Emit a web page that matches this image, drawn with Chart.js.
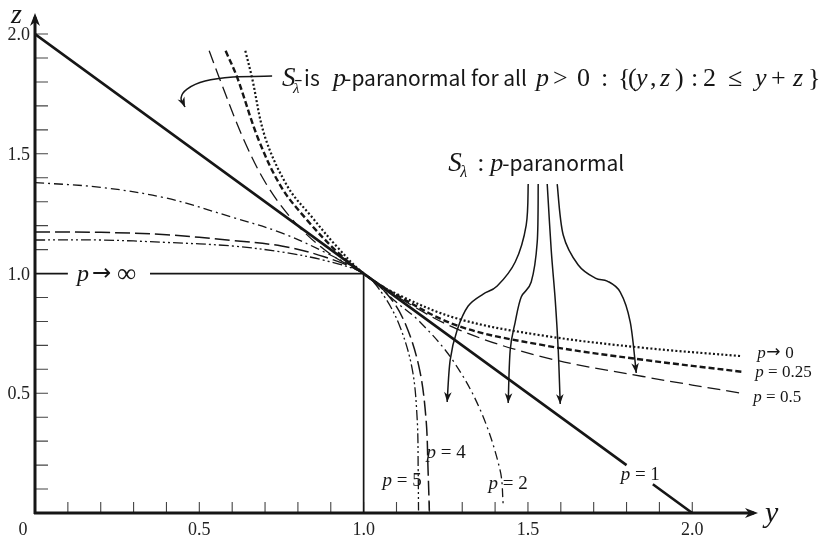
<!DOCTYPE html>
<html>
<head>
<meta charset="utf-8">
<script src="https://cdn.jsdelivr.net/npm/chart.js@4.4.1/dist/chart.umd.min.js"></script>
<style>
  html, body { margin: 0; padding: 0; background: #fff; }
</style>
</head>
<body>
<canvas id="paranormal" width="825" height="541"></canvas>
<script>
// level sets through (1, 1): [y, z] pairs, left branch first
const curveP0   = [[0.64, 1.93], [0.66, 1.82], [0.70, 1.57], [0.77, 1.36], [0.84, 1.24], [0.92, 1.11], [1.0, 1.0],
                   [1.1, 0.915], [1.29, 0.81], [1.55, 0.74], [1.85, 0.69], [2.15, 0.655]];
const curveP025 = [[0.58, 1.93], [0.615, 1.82], [0.68, 1.56], [0.75, 1.36], [0.83, 1.22], [0.92, 1.09], [1.0, 1.0],
                   [1.1, 0.91], [1.29, 0.78], [1.55, 0.70], [1.85, 0.64], [2.15, 0.59]];
const curveP05  = [[0.53, 1.93], [0.56, 1.82], [0.635, 1.56], [0.71, 1.36], [0.80, 1.20], [0.90, 1.08], [1.0, 1.0],
                   [1.1, 0.905], [1.29, 0.765], [1.55, 0.65], [1.85, 0.57], [2.15, 0.50]];
const curveP2   = [[0, 1.38], [0.2, 1.36], [0.4, 1.315], [0.6, 1.235], [0.75, 1.17], [0.88, 1.09], [1.0, 1.0],
                   [1.1, 0.88], [1.17, 0.80], [1.27, 0.64], [1.355, 0.43], [1.415, 0.18], [1.425, 0.03]];
const curveP4   = [[0, 1.173], [0.2, 1.172], [0.4, 1.162], [0.6, 1.138], [0.75, 1.115], [0.88, 1.07], [1.0, 1.0],
                   [1.08, 0.90], [1.13, 0.78], [1.17, 0.60], [1.19, 0.39], [1.196, 0.18], [1.2, 0.01]];
const curveP5   = [[0, 1.14], [0.2, 1.14], [0.4, 1.13], [0.6, 1.115], [0.75, 1.09], [0.88, 1.055], [1.0, 1.0],
                   [1.06, 0.91], [1.11, 0.78], [1.148, 0.60], [1.163, 0.39], [1.166, 0.18], [1.167, 0.01]];
// y + z = 2, broken where "p = 1" sits
const lineP1    = [[0, 2], [1.8, 0.2], [1.84, null], [1.88, 0.12], [2, 0]];
// max(y, z) = 1, broken where "p -> inf" sits
const lineInf   = [[0, 1], [0.1, 1], [0.22, null], [0.35, 1], [1, 1], [1, 0]];

const yTickValues = [0, 0.5, 1.0, 1.5, 2.0];
const yTickLabels = ['0', '0.5', '1.0', '1.5', '2.0'];
const zTickValues = [0.5, 1.0, 1.5, 2.0];
const zTickLabels = ['0.5', '1.0', '1.5', '2.0'];

const INK = '#161616';
const SERIF = '"Liberation Serif", "DejaVu Serif", serif';
const SANS = '"Noto Sans CJK KR", "Noto Sans", sans-serif';
const it = px => `italic ${px}px ${SERIF}`;
const rm = px => `${px}px ${SERIF}`;
const sans = px => `${px}px ${SANS}`;
const arw = px => `${px}px "DejaVu Sans", sans-serif`;

const pts = arr => arr.map(([a, b]) => ({ x: a, y: b }));

function curve(data, dash, width) {
  return {
    data: pts(data),
    showLine: true,
    borderColor: INK,
    borderWidth: width,
    borderDash: dash,
    pointRadius: 0,
    tension: 0.35,
    fill: false
  };
}

// several font runs on one baseline
function runs(ctx, parts, x, y, align) {
  let w = 0;
  parts.forEach(([t, f]) => { ctx.font = f; w += ctx.measureText(t).width; });
  let cx = align === 'center' ? x - w / 2 : x;
  parts.forEach(([t, f]) => {
    ctx.font = f;
    ctx.fillText(t, cx, y);
    cx += ctx.measureText(t).width;
  });
  return cx;
}

// glyphs set at fixed offsets from an anchor: [text, font, dx, dy]
function place(ctx, items, x, y) {
  items.forEach(([t, f, dx, dy]) => {
    ctx.font = f;
    ctx.fillText(t, x + dx, y + (dy || 0));
  });
}

function arrowHead(ctx, tip, from, len, half) {
  const a = Math.atan2(tip.y - from.y, tip.x - from.x);
  ctx.beginPath();
  ctx.moveTo(tip.x, tip.y);
  ctx.lineTo(tip.x - len * Math.cos(a) + half * Math.sin(a), tip.y - len * Math.sin(a) - half * Math.cos(a));
  ctx.lineTo(tip.x - len * Math.cos(a) * 0.7, tip.y - len * Math.sin(a) * 0.7);
  ctx.lineTo(tip.x - len * Math.cos(a) - half * Math.sin(a), tip.y - len * Math.sin(a) + half * Math.cos(a));
  ctx.closePath();
  ctx.fill();
}

// smooth pointer through points (catmull-rom), arrowhead at the last one
function pointer(ctx, p) {
  ctx.beginPath();
  ctx.moveTo(p[0].x, p[0].y);
  let c2 = p[0];
  for (let i = 0; i < p.length - 1; i++) {
    const p0 = p[i - 1] || p[i], p1 = p[i], p2 = p[i + 1], p3 = p[i + 2] || p2;
    const c1 = { x: p1.x + (p2.x - p0.x) / 6, y: p1.y + (p2.y - p0.y) / 6 };
    c2 = { x: p2.x - (p3.x - p1.x) / 6, y: p2.y - (p3.y - p1.y) / 6 };
    ctx.bezierCurveTo(c1.x, c1.y, c2.x, c2.y, p2.x, p2.y);
  }
  ctx.stroke();
  arrowHead(ctx, p[p.length - 1], c2, 10, 3.8);
}

const sketch = {
  id: 'sketch',
  beforeDatasetsDraw(chart) {
    const { ctx, scales: { x, y } } = chart;
    const x0 = x.getPixelForValue(0), y0 = y.getPixelForValue(0);
    const xEnd = x.getPixelForValue(x.max), yEnd = y.getPixelForValue(y.max);
    ctx.save();
    ctx.strokeStyle = '#444';
    ctx.lineWidth = 1.1;
    for (let i = 1; i <= 20; i++) {
      const v = i / 10;
      const px = x.getPixelForValue(v), py = y.getPixelForValue(v);
      ctx.beginPath();
      ctx.moveTo(px, y0); ctx.lineTo(px, y0 - 11);
      ctx.moveTo(x0, py); ctx.lineTo(x0 + 13, py);
      ctx.stroke();
    }
    ctx.strokeStyle = INK;
    ctx.fillStyle = INK;
    ctx.lineWidth = 3;
    ctx.beginPath();
    ctx.moveTo(x0, y0 + 1); ctx.lineTo(x0, yEnd + 4);
    ctx.moveTo(x0 - 1, y0); ctx.lineTo(xEnd - 4, y0);
    ctx.stroke();
    arrowHead(ctx, { x: xEnd, y: y0 }, { x: xEnd - 20, y: y0 }, 13, 5);
    arrowHead(ctx, { x: x0, y: yEnd }, { x: x0, y: yEnd + 20 }, 13, 5);
    ctx.restore();
  },
  afterDatasetsDraw(chart) {
    const { ctx, scales: { x, y } } = chart;
    const P = (a, b) => ({ x: x.getPixelForValue(a), y: y.getPixelForValue(b) });
    ctx.save();
    ctx.strokeStyle = INK;
    ctx.fillStyle = INK;
    ctx.lineWidth = 1.5;

    const pointers = [
      [[0.7215, 1.8246], [0.6027, 1.8205], [0.5175, 1.8038], [0.4627, 1.7704], [0.4444, 1.7328], [0.4566, 1.6952]],
      [[1.5008, 1.3737], [1.4947, 1.2025], [1.4612, 1.0480], [1.4064, 0.9478], [1.3638, 0.9144], [1.3181, 0.8643],
       [1.2846, 0.7641], [1.2633, 0.6388], [1.2542, 0.4635]],
      [[1.5312, 1.3737], [1.5282, 1.1315], [1.5099, 0.9645], [1.4795, 0.9019], [1.4612, 0.7975], [1.4460, 0.6806],
       [1.4399, 0.4593]],
      [[1.5586, 1.3737], [1.5708, 1.0981], [1.5830, 0.8894], [1.5921, 0.6806], [1.5982, 0.4551]],
      [[1.5890, 1.3737], [1.6073, 1.1608], [1.6530, 1.0355], [1.7047, 0.9812], [1.7412, 0.9687], [1.7808, 0.9228],
       [1.8113, 0.7975], [1.8295, 0.5846]]
    ];
    pointers.forEach(list => pointer(ctx, list.map(([a, b]) => P(a, b))));

    ctx.textBaseline = 'alphabetic';

    // tick labels
    ctx.fillStyle = '#222';
    ctx.font = rm(18);
    ctx.textAlign = 'center';
    yTickValues.forEach((v, i) => {
      const px = x.getPixelForValue(v) - (v === 0 ? 12 : 0);
      ctx.fillText(yTickLabels[i], px, y.getPixelForValue(0) + 22);
    });
    ctx.textAlign = 'right';
    zTickValues.forEach((v, i) => {
      ctx.fillText(zTickLabels[i], x.getPixelForValue(0) - 5, y.getPixelForValue(v) + 6);
    });
    ctx.textAlign = 'left';
    ctx.fillStyle = INK;

    // axis names
    ctx.font = it(30);
    const yName = P(x.max, 0);
    ctx.fillText('y', yName.x + 7, yName.y + 9);
    ctx.font = it(28);
    const zName = P(0, y.max);
    ctx.fillText('z', zName.x - 24, zName.y + 10);

    // curve names
    const s = 19;
    let q = P(0.128, 0.9687);
    place(ctx, [['p', it(24), 0], ['\u2192', arw(23), 15, -1], ['\u221E', rm(27), 40, 1]], q.x, q.y);
    q = P(1.117, 0.1127);
    runs(ctx, [['p', it(s)], [' = 5', rm(s)]], q.x, q.y, 'center');
    q = P(1.2511, 0.2296);
    runs(ctx, [['p', it(s)], [' = 4', rm(s)]], q.x, q.y, 'center');
    q = P(1.4399, 0.1002);
    runs(ctx, [['p', it(s)], [' = 2', rm(s)]], q.x, q.y, 'center');
    q = P(1.8417, 0.1378);
    runs(ctx, [['p', it(s)], [' = 1', rm(s)]], q.x, q.y, 'center');
    q = P(2.1979, 0.6472);
    place(ctx, [['p', it(17), 0], ['\u2192', arw(17), 9, -1], ['0', rm(17), 28]], q.x, q.y);
    q = P(2.1918, 0.5678);
    runs(ctx, [['p', it(17)], [' = 0.25', rm(17)]], q.x, q.y, 'left');
    q = P(2.1857, 0.4635);
    runs(ctx, [['p', it(17)], [' = 0.5', rm(17)]], q.x, q.y, 'left');

    // S_lambda-bar statement
    q = P(0.7519, 1.7829);
    const m = 26;
    place(ctx, [
      ['S', it(27), 0], ['\u03BB', it(15), 11, 7],
      ['is', sans(21), 22], ['p', it(m), 51], ['-paranormal', sans(21), 62], ['for all', sans(21), 189],
      ['p', it(m), 254], ['>', rm(m), 271], ['0', rm(m), 295], [':', rm(m), 319],
      ['{', rm(m), 336], ['(', rm(m), 346], ['y', it(m), 354], [',', rm(m), 368], ['z', it(m), 378],
      [')', rm(m), 393], [':', rm(m), 409], ['2', rm(m), 421], ['\u2264', rm(m), 446],
      ['y', it(m), 473], ['+', rm(m), 489], ['z', it(m), 511], ['}', rm(m), 526]
    ], q.x, q.y);
    ctx.lineWidth = 1.2;
    ctx.beginPath();
    ctx.moveTo(q.x + 13, q.y - 5.5); ctx.lineTo(q.x + 19.5, q.y - 5.5);
    ctx.stroke();

    // S_lambda statement
    q = P(1.2572, 1.428);
    place(ctx, [
      ['S', it(27), 0], ['\u03BB', it(16), 12, 6], [':', rm(m), 29],
      ['p', it(m), 42], ['-paranormal', sans(21), 54]
    ], q.x, q.y);
    ctx.restore();
  }
};

new Chart(document.getElementById('paranormal'), {
  type: 'scatter',
  data: {
    datasets: [
      { ...curve(lineP1, [], 2.6), tension: 0 },
      { ...curve(lineInf, [], 1.7), tension: 0 },
      curve(curveP0, [2, 2.2], 2.2),
      curve(curveP025, [6, 3], 2.4),
      curve(curveP05, [13, 6], 1.3),
      curve(curveP2, [9, 4, 2, 4], 1.3),
      curve(curveP4, [15, 5], 1.5),
      curve(curveP5, [10, 3, 2, 3, 2, 3], 1.3)
    ]
  },
  options: {
    responsive: false,
    animation: false,
    devicePixelRatio: 1,
    layout: { padding: { left: 35, top: 13, right: 67, bottom: 28 } },
    scales: {
      x: { type: 'linear', min: 0, max: 2.2, display: false },
      y: { type: 'linear', min: 0, max: 2.088, display: false }
    },
    plugins: { legend: { display: false }, tooltip: { enabled: false } }
  },
  plugins: [sketch]
});
</script>
</body>
</html>
